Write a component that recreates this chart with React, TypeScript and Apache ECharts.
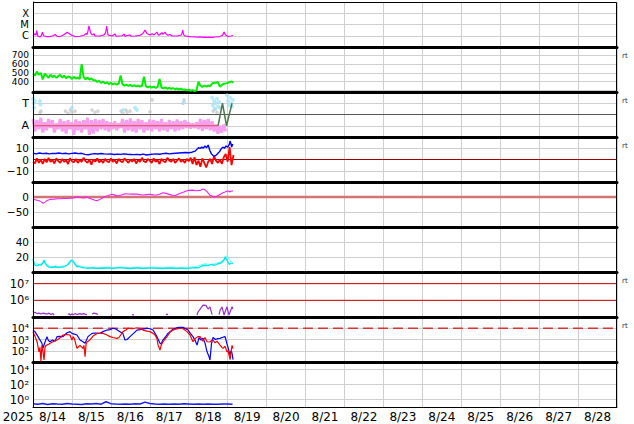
import React, { useEffect, useRef } from "react";
import * as echarts from "echarts";

// ---------- labels ----------
const DAY_LABELS = ["8/14", "8/15", "8/16", "8/17", "8/18", "8/19", "8/20", "8/21", "8/22", "8/23", "8/24", "8/25", "8/26", "8/27", "8/28"];
const YEAR_LABEL = "2025";
const RIGHT_TAG = "rt";

// ---------- data (hours since 8/14 00:00) ----------
// X-ray flux (W/m2)
const XRAY: [number, number][] = [[0,9.5e-7],[0.6,1.2e-6],[1.2,1.5e-6],[1.8,1.1e-6],[2.3,2.8e-6],[2.8,1.2e-6],[3.1,9e-7],[4.3,7.7e-7],[5.2,1.1e-6],[5.8,2.1e-6],[6.4,1.1e-6],[6.8,9.5e-7],[8.6,8.5e-7],[10.5,8.5e-7],[12.3,1e-6],[13.6,1.3e-6],[14.8,9e-7],[16.6,8.5e-7],[18.5,1.1e-6],[20.3,1.7e-6],[21,2e-6],[22.2,1.6e-6],[23.4,1.2e-6],[25.9,8.5e-7],[29,9e-7],[31.4,1.1e-6],[32.7,1.6e-6],[33.3,1.3e-6],[33.9,2.6e-6],[34.5,7.4e-6],[35.1,3.2e-6],[35.7,1.6e-6],[36.4,1.2e-6],[37.6,1.5e-6],[38.2,9.5e-7],[41.3,9.5e-7],[43.8,1.2e-6],[44.8,2e-6],[45.4,7.4e-6],[46.2,1.2e-6],[48.7,9.5e-7],[50.6,1.4e-6],[51.2,9e-7],[54.9,1e-6],[56.1,1.4e-6],[56.7,9e-7],[59.8,1.2e-6],[60.4,9e-7],[62.9,9.5e-7],[66,1.1e-6],[67.8,1.6e-6],[68.4,2.2e-6],[69,3.2e-6],[69.7,2.2e-6],[70.3,1.5e-6],[72.1,1.2e-6],[73.4,1.5e-6],[74.6,1.2e-6],[75.8,1.7e-6],[76.4,2.1e-6],[77.1,1.3e-6],[77.7,1.1e-6],[78.9,1.6e-6],[79.5,1.9e-6],[80.1,1.3e-6],[81.4,2.1e-6],[82,1.4e-6],[83.2,1.1e-6],[84.5,1.3e-6],[85.7,9.5e-7],[88.8,9.5e-7],[91.2,1.1e-6],[91.8,1.6e-6],[92.3,3.2e-6],[92.9,1.2e-6],[93.7,9.5e-7],[96.8,8.5e-7],[99.9,8e-7],[101.5,7.4e-7],[103,7.8e-7],[104.8,7.2e-7],[106,7.6e-7],[107.6,7.1e-7],[109.1,7.5e-7],[110.6,7.2e-7],[112.2,7.7e-7],[115.3,8.5e-7],[116.8,1.1e-6],[117.8,2.1e-6],[118.6,1.2e-6],[120.2,8.5e-7],[122.1,9.5e-7],[123.3,1.05e-6]];

// Solar wind speed (km/s), one sample every 1.2 h
const SPEED_STEP = 1.2;
const SPEED = [495,470,515,478,500,425,490, 470,445,480,452,470,444,466,478,448,468,440,460, 452,432,455,436,448,430, 600, 452,428,448,424,438,416, 418,398,410,388,400, 382,393,374,386,368,382,366,378, 470, 370,356,367,352,364,348,360,346,357,344,354, 457, 346,336,348,332,344,330,340, 431, 334,324,335,320,331,318,328,314,324,311,320,308, 312,301,310,296,305,294,303, 400, 354,341,357,344,358,348, 380,388,389,394,343, 362,378,381,386,398,402,390];

// IMF sector (T = 1, A = -1), pink trace sampled every 1.2 h
const SECTOR_STEP = 1.2;
const SECTOR_PINK = [-0.4,-1.5,-0.5,-1.3,-0.3,-1.6,-0.7,-1.4,-0.4,-1.2,-0.5,-1.6,-0.8,-1.3,-0.4, -1.5,-0.6,-1.7,-0.5,-1.3,-0.7,-1.8,-0.45,-1.4,-0.6,-1.6,-0.5,-1.3, -0.3,-1.8,-0.5,-1.7,-0.4, -1.5,-0.5,-1.3,-0.4,-1.4,-0.6,-1.5, -0.7,-1.3,-0.6,-1.4,-0.8,-1.2, -0.4,-1.6,-0.5,-1.4,-0.35,-1.5,-0.6,-1.6,-0.4,-1.3,-0.5,-1.6,-0.7,-1.4,-0.45, -1.5,-0.5,-1.3,-0.6,-1.5,-0.4,-1.4,-0.7,-1.5,-0.5,-1.3,-0.6,-1.5,-0.45,-1.4,-0.6,-1.3,-0.5, -1.2,-0.7,-1.25,-0.8,-1.2,-0.7,-1.3, -0.4,-1.45,-0.5,-1.3,-0.4,-1.4,-0.6,-1.5, -0.9,-1.7,-1.0,-1.6,-0.9,-1.5];
const SECTOR_GRAY: [number, number][] = [[4.3,0.2],[4.9,0.3],[20,0.3],[21.6,0.1],[23,0.4],[24,0.2],[25.9,0.3],[36.4,0.4],[38.2,0.2],[40,0.3],[54.3,0.3],[55.5,0.1],[57.3,0.4],[58,0.2],[59.8,0.3],[72.1,0.25],[73.4,1.3],[92.5,1.0],[93.1,1.3],[111,0.3],[112.2,0.5],[113.4,0.2]];
const SECTOR_BLUE: [number, number][] = [[0,1.4],[0.3,1.0],[0.6,0.6],[1.2,1.2],[4.3,1.2],[4.6,0.9],[24,0.6],[55.5,0.4],[62.9,0.6],[64.1,0.4],[93.1,1.1],[110.4,1.5],[111,0.8],[111.6,1.2],[112.2,0.5],[112.8,1.0],[113.4,1.4],[114.1,0.7],[114.7,1.1],[115.3,0.6],[119.6,1.7],[120.2,1.2],[120.8,0.8],[121.5,1.5],[122.1,1.0],[122.7,0.7],[123.3,1.3]];
const SECTOR_RED: [number, number][] = [[0,-1],[114.1,-1]];
const SECTOR_GREEN: [number, number][] = [[114.1,-1],[116.8,1],[119.3,-1],[122.7,1]];

// IMF Bt (nT)
const BT: [number, number][] = [[0,5.5],[2,5],[4,5.8],[6,5.2],[8,5.6],[10,5],[12,5.4],[14,5.3],[16,5.8],[18,5.2],[20,5.6],[22,5],[24,5.4],[26,5.8],[28,5.2],[30,5.5],[32,4.6],[34,4.2],[36,4.8],[38,5.2],[40,4.9],[42,5.3],[44,5],[46,4.8],[48,5],[50,4.5],[52,4.8],[54,4.6],[56,5],[58,4.7],[60,4.5],[62,4.3],[64,4.6],[66,4.2],[68,4.8],[70,4],[72,4.5],[74,4.8],[76,5],[78,4.7],[80,5.2],[82,5.5],[84,5],[86,5.3],[88,5.6],[90,5.8],[92,6],[94,6.2],[96,6],[98,6.5],[100,7.5],[101,9],[102,10.5],[103,9.8],[104,11],[105,10.2],[106,12],[107,10.5],[108,12.9],[109,8],[110,5],[111,3.5],[112,3],[113,4],[114,5.5],[115,7],[116,9.5],[117,11],[118,10],[119,12],[120,11],[121,13.5],[121.5,16.4],[122,14],[122.5,11],[123,13.5],[123.3,12.9]];
// IMF Bz (nT), every 1.2 h
const BZ_STEP = 1.2;
const BZ = [-2,-3.5,1,-3,0,-4,0.5,-2.5,1.5,-2,-0.5,-3.5,1,-1.5,-3,0.5,-2,-0.5,-4,1, -1.5,-2.5,0.5,-3,-0.5,-2,1.5,-1.5,-3,0,-4.5,0,-2,1,-2.5,-0.5,-3,0.5,-1.5,-2.5, 1,-2,-0.5,-3.5,0.5,-1.5,-2.5,1,-1,-3,0,-2,0.5,-3.5,-0.5,-2,1.5,-1.5,-2.5,0.5, -1,-3,1,-2,-0.5,-4,0.5,-1.5,-2.5,1.5,-1,-2,0.5,-3,-1,1,-2,-0.5,-3,0.5,-1.5, 1.5,-4,2,-5,-1,-6.5,1,-3,-7,-2,0.5,-4,3,-1, -3,0,-4,2,5,-2,11,-5,4];

// Dst (nT)
const DST: [number, number][] = [[0,-8],[2,-10],[4,-13],[5.5,-18],[6.2,-21],[7.4,-17],[8.6,-12],[10.5,-8],[13,-7],[15,-6],[17,-6],[19,-5],[21,-5],[23,-4],[25,-3],[27.7,1],[29,-1],[30.8,-3],[32,-2],[33.3,0],[34.5,-3],[36.4,-7.7],[38.2,-11],[39.5,-12],[41.3,-8],[43.8,0],[46,4],[48.7,9],[50,7],[52.4,3],[54,6],[56.7,11],[58.6,10],[61,9.5],[64.1,10],[66,8],[67.8,6.7],[70,8],[72.1,9],[74,7],[76.4,6.7],[78.3,10],[80.1,14.4],[82,12],[84.5,8],[86.3,5],[87.5,4.4],[89,8],[90.6,12],[93,17],[94.9,21],[96,22],[98.6,23],[100,21],[103,22],[104.8,26.7],[106,24],[107.3,18],[108.5,10],[109.1,5.5],[110.4,3],[112.2,1],[113.4,2],[114.1,5],[115.5,9],[117.1,14.4],[118.4,17],[119.6,20],[120.8,19],[121.5,17],[122.1,19],[123.3,21]];

// Proton density (two traces)
const DENS_A: [number, number][] = [[0,18],[0.6,12],[1.2,9],[2.5,8],[3.7,10],[4.9,9],[6.2,12],[6.8,16],[7.4,12],[8.6,8],[9.9,6.5],[11.7,6],[13.6,7],[15.4,6],[17.3,6.5],[19.1,7],[21,9],[22.2,12],[23.4,16],[24.7,14],[25.9,10],[27.1,7],[28.4,7.5],[30.2,6],[32,5.5],[34,5],[36,5.5],[38,5],[40,4.8],[42,5.2],[44,5],[46,5.5],[48,5],[50,4.8],[52,5.5],[54,6],[56,5.2],[58,5],[60,4.5],[62,5],[64,5.5],[66,5],[68,4.8],[70,5],[72,5.5],[74,5.2],[76,4.8],[78,5],[80,4.5],[82,5],[84,5.3],[86,5],[88,4.5],[90,4.8],[92,5],[94,4.6],[96,5],[98,5.5],[100,6],[102,5.5],[104,8],[106,9],[108,8.5],[110,10],[112,9],[114,11],[116,12],[117.8,16],[118.4,20.4],[119,18],[120,14],[121,10],[122,12],[123.3,11]];
const DENS_B: [number, number][] = [[0,15],[1.2,10],[2.5,11],[3.7,9],[5,11],[6.2,14],[7.4,13],[8.6,10],[10,8],[12,7],[14,8],[16,7],[18,8],[20,8],[21.6,10],[23.4,13],[24.7,16],[25.9,12],[27.1,9],[29,8],[31,7],[33,6.5],[35,6],[37,6.5],[40,6],[45,6.5],[50,6],[55,6.5],[60,6],[65,6.5],[70,6],[75,6.5],[80,6],[85,6.5],[90,6],[95,6.5],[100,7],[103,9],[106,11],[109,10],[112,11],[115,13],[117,15],[118.4,18],[119.6,22],[120.8,17],[122,14],[123.3,13]];

// Electron flux (null = gap)
const ELECTRON: [number, number | null][] = [[0,2.3e5],[0.6,1.8e5],[1.2,1.9e5],[2.5,1.6e5],[3.7,1.7e5],[4.9,1.5e5],[6.2,1.7e5],[7.4,1.6e5],[8.6,1.5e5],[9.9,1.7e5],[11.1,1.4e5],[12.3,1.6e5],[13,1.3e5],[13.6,null],[21.6,1.4e5],[22.2,1.6e5],[23,1.3e5],[24,1.5e5],[25,1.4e5],[26,1.6e5],[27,1.4e5],[28,1.5e5],[29,1.6e5],[30,1.4e5],[31,1.6e5],[32,1.5e5],[33.3,1.4e5],[34,null],[36.4,1.5e5],[37.6,1.7e5],[38.8,1.6e5],[40.1,1.4e5],[41,null],[48.1,1.35e5],[48.7,1.25e5],[49.3,null],[61,1.4e5],[62.3,1.35e5],[63,null],[67.2,1.3e5],[68,null],[82,1.5e5],[82.6,1.35e5],[83.2,1.5e5],[84,null],[101.1,1.3e5],[101.7,2e5],[103,3e5],[104.8,5.2e5],[106.6,5e5],[107.9,3e5],[109.1,4.1e5],[110.4,1.4e5],[111,null],[114.7,1.4e5],[115.3,2.5e5],[116.5,4e5],[117.8,1.3e5],[118.4,2e5],[119.6,4.1e5],[120.8,1.3e5],[121.5,2e5],[122.7,4.1e5],[123.3,3e5]];
const ELECTRON_ALERTS = [1e6, 1e7];

// Proton flux (two traces)
const PFLUX_BLUE: [number, number][] = [[0,6900],[1.2,5000],[3.1,1800],[5.5,460],[6.2,175],[7,400],[8.6,1800],[9.5,800],[10.5,630],[12,900],[13.6,700],[14.8,1800],[16.6,1900],[18.5,1800],[21,4000],[22.8,5000],[24,3500],[25.5,3000],[27.1,2500],[29,900],[30.8,630],[32.1,460],[33.9,1800],[36.4,3500],[38.2,3800],[41.3,3500],[43.2,5000],[45.6,6900],[47.5,7500],[49.3,10000],[51,8500],[53.6,5000],[55.5,3200],[56.7,910],[58,1000],[59.8,1800],[62,3500],[64.1,6900],[66,7500],[67.8,8500],[70.3,10000],[72.1,9000],[74,6900],[75.5,3000],[76.4,1800],[78.3,460],[79,400],[80.1,900],[82,2000],[83.2,3500],[84.5,5000],[86.3,8000],[88.8,11200],[90.6,12000],[92.5,12000],[94,9000],[95.6,6900],[97,3500],[98.6,1800],[100,800],[101.1,316],[102.4,1500],[103.6,900],[104.8,1300],[106,500],[107.3,80],[108.5,30],[109.1,15],[110,400],[111,1500],[112.5,1000],[114,1200],[115.3,1260],[116.5,1500],[118.4,1800],[119.6,400],[120.2,200],[121.5,40],[122.1,100],[122.7,60],[123.3,16]];
const PFLUX_RED: [number, number][] = [[0,5000],[0.6,3000],[1.2,2000],[2.5,630],[3.7,80],[4.3,200],[4.9,11],[5.5,300],[6.2,80],[6.8,15],[7.4,200],[8,300],[8.6,316],[9.9,400],[10.5,460],[12,600],[14.8,910],[17,1500],[18.5,2500],[20,2800],[22.8,2500],[24,910],[24.7,1800],[25.5,1200],[27.1,160],[28.4,250],[29,300],[30.8,160],[31.4,300],[32.1,30],[32.7,400],[33.3,600],[35.1,910],[37,2000],[39.5,3500],[41.3,3500],[43.2,3500],[45.6,2500],[47.5,1800],[49.3,1500],[51.8,1260],[53,1500],[55.5,5000],[57.3,6900],[58.6,10000],[61,9000],[64.1,11000],[66,9000],[67.8,6900],[70.3,5500],[72.1,5000],[74,3500],[75.2,2500],[76.4,1200],[77.1,316],[78.3,117],[79,300],[80.1,630],[82.6,1800],[84.5,4500],[86.3,6900],[88.1,8500],[90.6,10000],[92.5,9000],[94.9,5000],[96.8,2500],[98.6,630],[99.9,1200],[101.7,1800],[103,1800],[104.8,700],[106,1500],[107.3,630],[109.1,600],[110.4,900],[111,900],[112.2,500],[113.4,700],[115.3,316],[116.5,200],[117.1,160],[118.4,250],[119.6,80],[120.2,100],[121.5,16],[122.1,80],[122.7,300],[123.3,160]];
const PFLUX_ALERT = 1e4;

// Bottom panel flux, every 3 h
const LOWFLUX_STEP = 3;
const LOWFLUX = [0.27,0.24,0.3,0.22,0.28,0.25,0.23,0.29,0.26,0.24,0.22,0.27,0.25,0.3,0.24,0.5,0.28,0.25,0.23,0.26,0.24,0.27,0.25,0.45,0.3,0.26,0.24,0.25,0.23,0.26,0.24,0.27,0.25,0.23,0.26,0.24,0.25,0.24,0.23,0.26,0.25,0.24];

// time span of the axis (hours)
const SPAN = [0, 360];

// ---------- helpers ----------
const SUP: Record<string, string> = { "-": "⁻", "0": "⁰", "1": "¹", "2": "²", "3": "³", "4": "⁴", "5": "⁵", "6": "⁶", "7": "⁷", "8": "⁸", "9": "⁹" };
const isInt = (v: number) => Math.abs(v - Math.round(v)) < 1e-6;
const pow10Label = (v: number) => "10" + String(Math.round(v)).split("").map((c) => SUP[c] ?? c).join("");
const lg = (d: [number, number | null][]) => d.map(([t, v]) => [t, v == null ? null : Math.log10(v)]);
const stepped = (vals: number[], step: number) => vals.map((v, i) => [+(i * step).toFixed(2), v]);
const flat = (v: number) => SPAN.map((t) => [t, v]);

const FONT = "DejaVu Sans";
const TOP = 2;
const H = 45;
const LEFT = 33;
const RIGHT = 17;
const GRID_COLOR = "#cfcfcf";

function buildOption() {
  const grids = Array.from({ length: 9 }, (_, i) => ({ left: LEFT, right: RIGHT, top: TOP + i * H, height: H }));
  const xAxes: any[] = grids.map((_, i) => ({
    type: "value",
    gridIndex: i,
    min: SPAN[0],
    max: SPAN[1],
    interval: 24,
    axisLabel: { show: false },
    axisTick: { show: false },
    axisLine: { show: true, onZero: false, lineStyle: { color: "#000", width: i < 8 ? 3 : 1 } },
    splitLine: { show: true, lineStyle: { color: GRID_COLOR, width: 1 } },
  }));
  xAxes.push({
    type: "category",
    gridIndex: 8,
    position: "bottom",
    data: DAY_LABELS,
    boundaryGap: true,
    axisLine: { show: false },
    axisTick: { show: false },
    splitLine: { show: false },
    axisLabel: { interval: 0, margin: 4, fontSize: 12, color: "#000", fontFamily: FONT },
  });

  const yBase = (i: number, min: number, max: number, interval: number | undefined, formatter: (v: number) => string, extra: any = {}) => ({
    type: "value",
    gridIndex: i,
    min,
    max,
    ...(interval != null ? { interval } : {}),
    axisLine: { show: true, onZero: false, lineStyle: { color: "#000", width: 1 } },
    axisTick: { show: false, ...(extra.tick || {}) },
    splitLine: { show: true, lineStyle: { color: GRID_COLOR, width: 1 } },
    axisLabel: { fontSize: 10.5, color: "#000", fontFamily: FONT, margin: 4, formatter, ...(extra.label || {}) },
  });

  const yAxes = [
    yBase(0, -7, -3, 1, (v) => (v === -6 ? "C" : v === -5 ? "M" : v === -4 ? "X" : ""), { label: { fontSize: 10 } }),
    yBase(1, 283, 795, undefined, (v) => (v >= 400 && v <= 700 && v % 100 === 0 ? String(v) : ""), { label: { fontSize: 9 } }),
    yBase(2, -2, 2, 1, (v) => (v === 1 ? "T" : v === -1 ? "A" : ""), { label: { fontSize: 11 } }),
    yBase(3, -20, 20, 10, (v) => (Math.abs(v) < 20 ? String(v).replace("-", "−") : "")),
    yBase(4, -100, 50, 50, (v) => (v === 0 || v === -50 ? String(v).replace("-", "−") : "")),
    yBase(5, 0, 60, 20, (v) => (v === 20 || v === 40 ? String(v) : "")),
    yBase(6, 5, 7.7, 1, (v) => (isInt(v) && v >= 6 && v <= 7 ? pow10Label(v) : ""), { label: { fontSize: 11.5 } }),
    yBase(7, 1, 5, 1, (v) => (isInt(v) && v >= 2 && v <= 4 ? pow10Label(v) : ""), { label: { fontSize: 10.5 } }),
    yBase(8, -1, 5, undefined, (v) => pow10Label(v), { label: { fontSize: 11.5, customValues: [0, 2, 4] }, tick: { customValues: [0, 2, 4] } }),
  ];

  const line = (i: number, data: any[], color: string, width: number, extra: any = {}) => ({
    type: "line",
    xAxisIndex: i,
    yAxisIndex: i,
    data,
    showSymbol: false,
    symbol: "none",
    connectNulls: false,
    lineStyle: { color, width, ...(extra.lineType ? { type: extra.lineType } : {}) },
    itemStyle: { color },
    silent: true,
  });
  const scatter = (i: number, data: any[], color: string, size: number) => ({
    type: "scatter",
    xAxisIndex: i,
    yAxisIndex: i,
    data,
    symbolSize: size,
    itemStyle: { color },
    silent: true,
  });

  const series = [
    line(0, lg(XRAY), "#ff00ff", 1.2),
    line(1, stepped(SPEED, SPEED_STEP), "#00ee00", 2),
    line(2, flat(0), "#555555", 1),
    line(2, stepped(SECTOR_PINK, SECTOR_STEP), "#f4a0ee", 3),
    scatter(2, SECTOR_GRAY, "#c8c8c8", 3.5),
    scatter(2, SECTOR_BLUE, "#a6e4f8", 4),
    line(2, SECTOR_RED, "#e04848", 1.2),
    line(2, SECTOR_GREEN, "#4f774f", 1.5),
    line(3, flat(0), "#a00000", 1),
    line(3, stepped(BZ, BZ_STEP), "#ff0000", 1.8),
    line(3, BT, "#0000ff", 1.4),
    line(4, flat(0), "#d27474", 2.5),
    line(4, DST, "#ee22ee", 1.1),
    line(5, DENS_B, "#7ff3f3", 1.1),
    line(5, DENS_A, "#00e8e8", 1.3),
    ...ELECTRON_ALERTS.map((v) => line(6, flat(Math.log10(v)), "#cc0000", 1)),
    line(6, lg(ELECTRON), "#9933cc", 1.2),
    line(7, flat(Math.log10(PFLUX_ALERT)), "#dd3333", 1.5, { lineType: [10, 5] }),
    line(7, lg(PFLUX_BLUE), "#0000ff", 1.2),
    line(7, lg(PFLUX_RED), "#ff0000", 1.2),
    line(8, lg(stepped(LOWFLUX, LOWFLUX_STEP) as any), "#1a1aff", 1.5),
  ];

  const graphics: any[] = [
    { type: "rect", silent: true, z: 100, shape: { x: LEFT + 0.5, y: TOP + 0.5, width: 634 - LEFT - RIGHT - 1, height: 9 * H }, style: { fill: "none", stroke: "#000", lineWidth: 1 } },
    { type: "text", x: 18, y: 417, style: { text: YEAR_LABEL, fontSize: 12, fontFamily: FONT, fill: "#000", align: "center", verticalAlign: "middle" } },
  ];
  [1, 2, 3, 6, 7].forEach((i) => {
    graphics.push({ type: "text", x: 622, y: TOP + i * H + 9, style: { text: RIGHT_TAG, fontSize: 7, fontFamily: FONT, fill: "#333", verticalAlign: "middle" } });
  });

  return {
    animation: false,
    backgroundColor: "#fff",
    grid: grids,
    xAxis: xAxes,
    yAxis: yAxes,
    series,
    graphic: graphics,
  };
}

export default function App() {
  const ref = useRef<HTMLDivElement>(null);
  useEffect(() => {
    const chart = echarts.init(ref.current!, null, { renderer: "svg" });
    chart.setOption(buildOption() as any);
    return () => chart.dispose();
  }, []);
  return <div ref={ref} style={{ position: "fixed", left: 0, top: 0, width: 634, height: 424 }} />;
}
